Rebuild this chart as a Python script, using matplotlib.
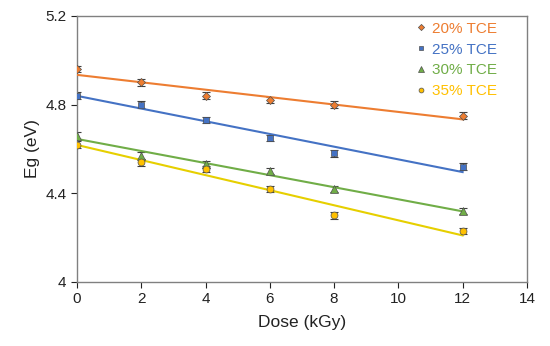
import numpy as np
import matplotlib.pyplot as plt
from matplotlib.ticker import FormatStrFormatter

plt.rcParams['font.family'] = ['Liberation Sans', 'DejaVu Sans']

dose = [0, 2, 4, 6, 8, 12]
labels = ["20% TCE", "25% TCE", "30% TCE", "35% TCE"]
eg_20 = [4.96, 4.90, 4.84, 4.82, 4.80, 4.75]
eg_25 = [4.84, 4.80, 4.73, 4.65, 4.58, 4.52]
eg_30 = [4.66, 4.57, 4.53, 4.50, 4.42, 4.32]
eg_35 = [4.62, 4.54, 4.51, 4.42, 4.30, 4.23]
err = [0.015, 0.015, 0.015, 0.015, 0.015, 0.015]

series = [eg_20, eg_25, eg_30, eg_35]
colors = ["#ED7D31", "#4472C4", "#70AD47", "#FFC000"]
line_colors = ["#ED7D31", "#4472C4", "#70AD47", "#E6CF00"]
markers = ["D", "s", "^", "o"]
msizes = [4.5, 5, 5.5, 5]

fig = plt.figure(figsize=(5.5, 3.46), dpi=100)
ax = fig.add_axes([0.14, 0.185, 0.818, 0.769])

x = np.array(dose)
for y, lab, c, lc, m, ms in zip(series, labels, colors, line_colors, markers, msizes):
    ax.errorbar(x, y, yerr=err, fmt='none', ecolor='#404040', elinewidth=0.8,
                capsize=3, capthick=0.8, zorder=2)
    ax.plot(x, y, linestyle='none', marker=m, markersize=ms, markerfacecolor=c,
            markeredgecolor='#505050', markeredgewidth=0.5, label=lab, zorder=4)
    # linear trend line
    k, b = np.polyfit(x, y, 1)
    ax.plot([0, 12], [b, b + 12 * k], color=lc, linewidth=1.5, zorder=3)

ax.set_xlim(0, 14)
ax.set_ylim(4, 5.2)
ax.set_xticks([0, 2, 4, 6, 8, 10, 12, 14])
ax.set_yticks([4, 4.4, 4.8, 5.2])
ax.yaxis.set_major_formatter(FormatStrFormatter('%g'))
ax.set_xlabel("Dose (kGy)", fontsize=12.5, color='#222222', labelpad=6)
ax.set_ylabel("Eg (eV)", fontsize=12.5, color='#222222', labelpad=4)
ax.tick_params(labelsize=11, colors='#222222', length=4, width=0.8, direction='out')
for s in ax.spines.values():
    s.set_color('#808080')
    s.set_linewidth(1.0)

leg = ax.legend(loc='upper right', bbox_to_anchor=(0.965, 1.03), frameon=False,
                fontsize=11, handlelength=0.5, handletextpad=0.5,
                labelspacing=0.45, markerscale=0.7)
for t, c in zip(leg.get_texts(), colors):
    t.set_color(c)

fig.savefig("out.png", dpi=100)
